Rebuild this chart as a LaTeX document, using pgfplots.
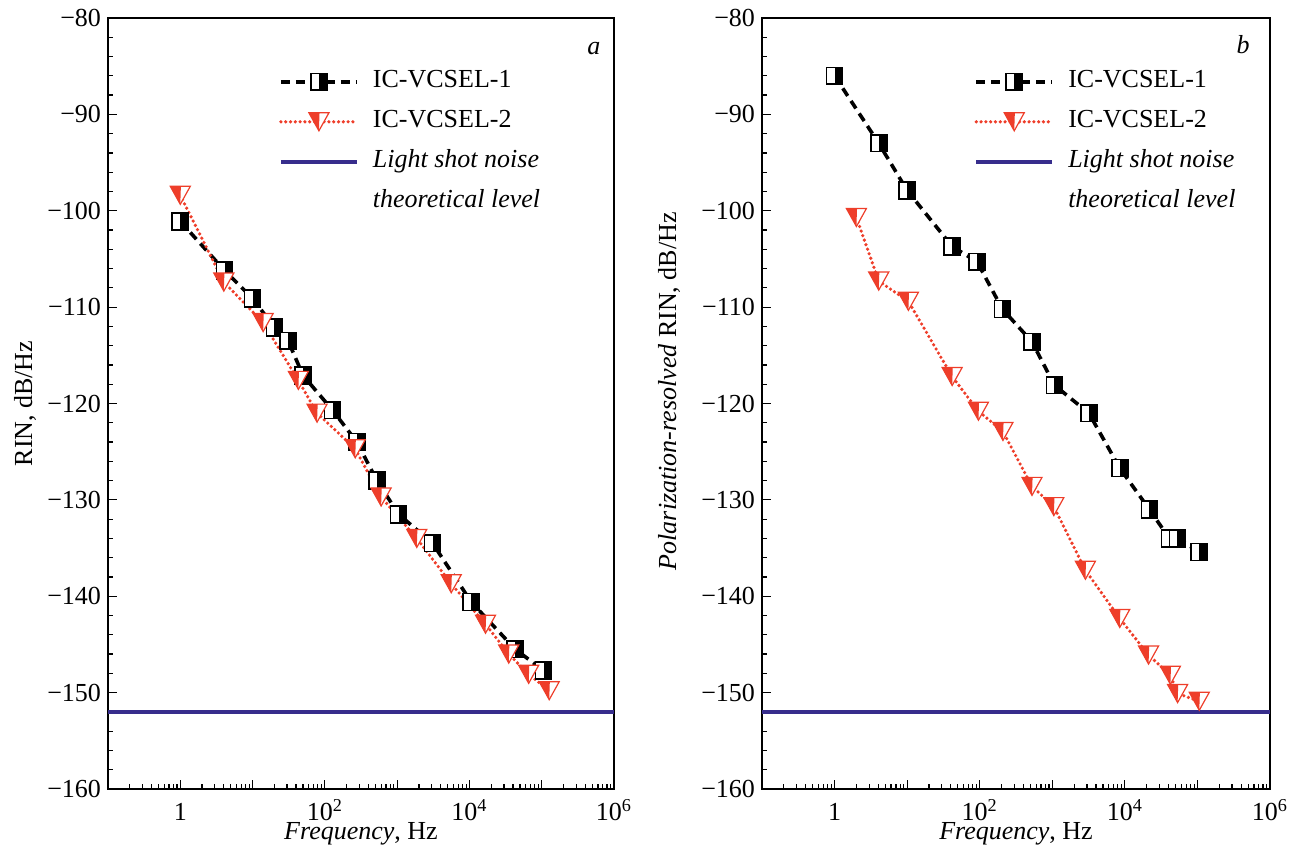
\documentclass[border=0pt]{standalone}
\usepackage{fontspec}
\setmainfont{Liberation Serif}
\usepackage{pgfplots}
\pgfplotsset{compat=1.18}

\definecolor{redm}{RGB}{238,62,42}
\definecolor{bluem}{RGB}{55,45,140}
\newcommand{\fs}{\fontsize{13}{15.6}\selectfont}

% square: left half white, right half black
\pgfdeclareplotmark{halfsq}{%
  \pgfsetdash{}{0pt}\pgfsetlinewidth{0.8pt}%
  \pgfsetfillcolor{white}%
  \pgfpathrectangle{\pgfpoint{-4pt}{-4.2pt}}{\pgfpoint{8pt}{8.4pt}}\pgfusepathqfill
  \pgfsetfillcolor{black}%
  \pgfpathrectangle{\pgfpoint{0pt}{-4.2pt}}{\pgfpoint{4pt}{8.4pt}}\pgfusepathqfill
  \pgfsetstrokecolor{black}%
  \pgfpathrectangle{\pgfpoint{-4pt}{-4.2pt}}{\pgfpoint{8pt}{8.4pt}}\pgfusepathqstroke
}
% triangle down: left half red, right half white
\pgfdeclareplotmark{halftri}{%
  \pgfsetdash{}{0pt}\pgfsetlinewidth{0.6pt}%
  \pgfsetfillcolor{white}%
  \pgfpathmoveto{\pgfpoint{-5pt}{4.5pt}}\pgfpathlineto{\pgfpoint{5pt}{4.5pt}}%
  \pgfpathlineto{\pgfpoint{0pt}{-4.5pt}}\pgfpathclose\pgfusepathqfill
  \pgfsetfillcolor{redm}%
  \pgfpathmoveto{\pgfpoint{-5pt}{4.5pt}}\pgfpathlineto{\pgfpoint{0.3pt}{4.5pt}}%
  \pgfpathlineto{\pgfpoint{0pt}{-4.5pt}}\pgfpathclose\pgfusepathqfill
  \pgfsetstrokecolor{redm}%
  \pgfpathmoveto{\pgfpoint{-5pt}{4.5pt}}\pgfpathlineto{\pgfpoint{5pt}{4.5pt}}%
  \pgfpathlineto{\pgfpoint{0pt}{-4.5pt}}\pgfpathclose\pgfusepathqstroke
}

\begin{document}
\begin{tikzpicture}
\path[use as bounding box] (-54pt,-30.5pt) rectangle (592.5pt,394.5pt);

\begin{axis}[
    xmode=log,
    scale only axis, width=253pt, height=385.5pt,
    at={(0pt,0pt)}, anchor=south west,
    xmin=0.1, xmax=1e6, ymin=-160, ymax=-80,
    xtick={0.1,1,10,100,1000,10000,100000,1000000},
    xticklabels={,1,,10\textsuperscript{2},,10\textsuperscript{4},,10\textsuperscript{6}},
    minor xtick={0.2,0.3,0.4,0.5,0.6,0.7,0.8,0.9,2,3,4,5,6,7,8,9,
      20,30,40,50,60,70,80,90,200,300,400,500,600,700,800,900,
      2000,3000,4000,5000,6000,7000,8000,9000,20000,30000,40000,50000,60000,70000,80000,90000,
      200000,300000,400000,500000,600000,700000,800000,900000},
    ytick={-160,-150,-140,-130,-120,-110,-100,-90,-80},
    yticklabels={−160,−150,−140,−130,−120,−110,−100,−90,−80},
    minor y tick num=4,
    xtick pos=bottom, ytick pos=left, tick align=inside,
    major tick length=4.5pt, minor tick length=2.5pt,
    tick style={black, line width=0.6pt},
    axis line style={line width=1.2pt},
    tick label style={font=\fs}, label style={font=\fs},
    xticklabel style={anchor=base, yshift=-15.8pt, inner sep=1pt},
    xlabel={\textit{Frequency}, Hz},
    xlabel style={at={(axis description cs:0.5,0)}, anchor=base, yshift=-25.2pt, inner sep=1pt},
    ylabel={RIN, dB/Hz},
    ylabel style={at={(axis description cs:-0.164,0.5)}, anchor=center},
    legend style={draw=none, fill=none, font=\fs, inner sep=0pt, row sep=4pt, column sep=5pt,
      nodes={inner sep=2pt, text height=9pt, text depth=3pt},
      at={(axis description cs:0.337,0.9385)}, anchor=north west},
    legend cell align=left,
    legend image code/.code={\draw[mark repeat=2,mark phase=2,#1]
      plot coordinates {(0pt,0pt) (19pt,0pt) (38pt,0pt)};},
  ]
  \addplot[black, line width=1.8pt, dash pattern=on 4.5pt off 3pt, mark=halfsq, mark options={solid}] coordinates {
    (1,-101.1) (4.1,-106.2) (10,-109.1) (20,-112.1) (31,-113.5) (50,-117.1)
    (128,-120.7) (277,-124.0) (525,-128.0) (1050,-131.5) (3090,-134.5)
    (10600,-140.6) (43000,-145.5) (106000,-147.7)
  };
  \addlegendentry{IC-VCSEL-1}
  \addplot[redm, line width=1.8pt, line cap=round, dash pattern=on 0pt off 2.4pt, mark=halftri, mark options={solid}] coordinates {
    (1,-98.4) (4,-107.4) (14,-111.6) (43,-117.6) (78,-121.0) (263,-124.7)
    (600,-129.7) (1870,-134.0) (5600,-138.7) (16700,-142.9) (35000,-146.0)
    (66000,-148.1) (127000,-149.8)
  };
  \addlegendentry{IC-VCSEL-2}
  \addplot[bluem, line width=2pt, no marks] coordinates {(0.1,-152) (1000000,-152)};
  \addlegendentry{\textit{Light shot noise}}
  \addlegendimage{empty legend}
  \addlegendentry{\textit{theoretical level}}
  \node[font=\fs\itshape] at (rel axis cs:0.96,0.961) {a};
\end{axis}

\begin{axis}[
    xmode=log,
    scale only axis, width=254pt, height=385.5pt,
    at={(327pt,0pt)}, anchor=south west,
    xmin=0.1, xmax=1e6, ymin=-160, ymax=-80,
    xtick={0.1,1,10,100,1000,10000,100000,1000000},
    xticklabels={,1,,10\textsuperscript{2},,10\textsuperscript{4},,10\textsuperscript{6}},
    minor xtick={0.2,0.3,0.4,0.5,0.6,0.7,0.8,0.9,2,3,4,5,6,7,8,9,
      20,30,40,50,60,70,80,90,200,300,400,500,600,700,800,900,
      2000,3000,4000,5000,6000,7000,8000,9000,20000,30000,40000,50000,60000,70000,80000,90000,
      200000,300000,400000,500000,600000,700000,800000,900000},
    ytick={-160,-150,-140,-130,-120,-110,-100,-90,-80},
    yticklabels={−160,−150,−140,−130,−120,−110,−100,−90,−80},
    minor y tick num=4,
    xtick pos=bottom, ytick pos=left, tick align=inside,
    major tick length=4.5pt, minor tick length=2.5pt,
    tick style={black, line width=0.6pt},
    axis line style={line width=1.2pt},
    tick label style={font=\fs}, label style={font=\fs},
    xticklabel style={anchor=base, yshift=-15.8pt, inner sep=1pt},
    xlabel={\textit{Frequency}, Hz},
    xlabel style={at={(axis description cs:0.5,0)}, anchor=base, yshift=-25.2pt, inner sep=1pt},
    ylabel={\textit{Polarization-resolved} RIN, dB/Hz},
    ylabel style={at={(axis description cs:-0.183,0.516)}, anchor=center},
    legend style={draw=none, fill=none, font=\fs, inner sep=0pt, row sep=4pt, column sep=5pt,
      nodes={inner sep=2pt, text height=9pt, text depth=3pt},
      at={(axis description cs:0.417,0.9385)}, anchor=north west},
    legend cell align=left,
    legend image code/.code={\draw[mark repeat=2,mark phase=2,#1]
      plot coordinates {(0pt,0pt) (19pt,0pt) (38pt,0pt)};},
  ]
  \addplot[black, line width=1.8pt, dash pattern=on 4.5pt off 3pt, mark=halfsq, mark options={solid}] coordinates {
    (1,-86.0) (4.06,-93.0) (10,-97.9) (41.7,-103.7) (92,-105.3) (205,-110.2)
    (525,-113.6) (1070,-118.1) (3190,-121.0) (8500,-126.7) (21800,-131.0)
    (41000,-134.0) (53000,-134.0) (106000,-135.4)
  };
  \addlegendentry{IC-VCSEL-1}
  \addplot[redm, line width=1.8pt, line cap=round, dash pattern=on 0pt off 2.4pt, mark=halftri, mark options={solid}] coordinates {
    (2.0,-100.7) (4.06,-107.3) (10.4,-109.4) (41.7,-117.2) (96,-120.8)
    (209,-122.9) (525,-128.6) (1050,-130.7) (2860,-137.3) (8500,-142.3)
    (21200,-146.1) (42400,-148.2) (53300,-150.1) (106000,-150.9)
  };
  \addlegendentry{IC-VCSEL-2}
  \addplot[bluem, line width=2pt, no marks] coordinates {(0.1,-152) (1000000,-152)};
  \addlegendentry{\textit{Light shot noise}}
  \addlegendimage{empty legend}
  \addlegendentry{\textit{theoretical level}}
  \node[font=\fs\itshape] at (rel axis cs:0.947,0.965) {b};
\end{axis}
\end{tikzpicture}
\end{document}
